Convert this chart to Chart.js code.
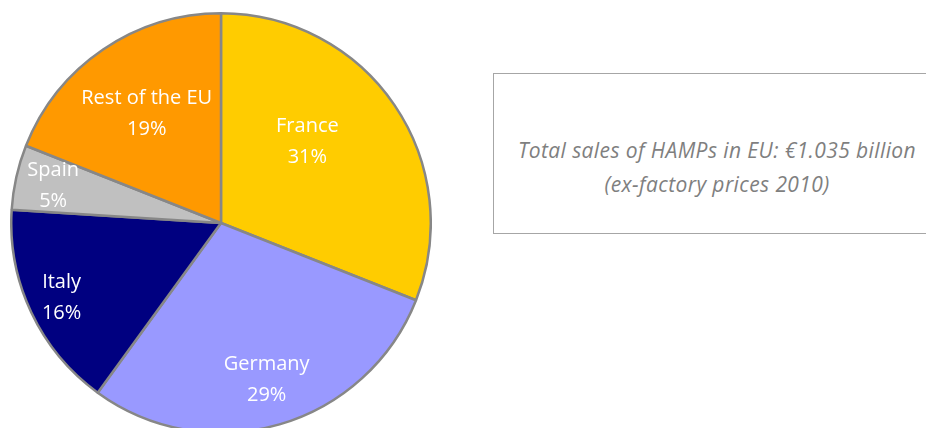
<!DOCTYPE html>
<html>
<head>
<meta charset="utf-8">
<script src="https://cdn.jsdelivr.net/npm/chart.js@4"></script>
<style>
    html, body { margin: 0; padding: 0; background: #fff; overflow: hidden; }
    body { width: 926px; height: 428px; position: relative; }
    #pieWrap { position: absolute; left: 10px; top: 12px; width: 422px; height: 422px; }
    #noteBox {
        position: absolute; left: 493px; top: 73px; width: 440px; height: 161px;
        border: 1px solid #a6a6a6; box-sizing: border-box;
        font-family: 'Open Sans', sans-serif; font-style: italic; font-size: 21px;
        letter-spacing: 0.4px; color: #7f7f7f; text-align: center;
    }
    #noteBox .line { position: absolute; left: 0; width: 446px; white-space: nowrap; line-height: 28px; }
</style>
</head>
<body>
<div id="pieWrap"><canvas id="salesPie"></canvas></div>
<div id="noteBox">
    <div class="line" style="top:62px;">Total sales of HAMPs in EU: €1.035 billion</div>
    <div class="line" style="top:96px;">(ex-factory prices 2010)</div>
</div>
<script>
// ── Data ──────────────────────────────────────────────────────────────
const countries = ['France', 'Germany', 'Italy', 'Spain', 'Rest of the EU'];
const shares = [31, 29, 16, 5, 19];
const sliceColors = ['#ffcc00', '#9999ff', '#000080', '#c0c0c0', '#ff9900'];

// label placement per slice: [radius fraction, angle nudge in degrees]
const labelPlace = [[0.565, -9], [0.78, 0], [0.84, 0], [0.82, 0], [0.63, 0]];

// Draws "Name\nNN%" inside each slice
const sliceLabels = {
    id: 'sliceLabels',
    afterDatasetsDraw(chart) {
        const { ctx } = chart;
        const arcs = chart.getDatasetMeta(0).data;
        ctx.save();
        ctx.fillStyle = '#ffffff';
        ctx.font = '20px "Open Sans", sans-serif';
        ctx.textAlign = 'center';
        ctx.textBaseline = 'middle';
        arcs.forEach((arc, i) => {
            const [frac, nudge] = labelPlace[i];
            const mid = (arc.startAngle + arc.endAngle) / 2 + nudge * Math.PI / 180;
            const r = arc.outerRadius * frac;
            const x = arc.x + Math.cos(mid) * r;
            const y = arc.y + Math.sin(mid) * r;
            ctx.fillText(countries[i], x, y - 15.5);
            ctx.fillText(shares[i] + '%', x, y + 15.5);
        });
        ctx.restore();
    },
};

new Chart(document.getElementById('salesPie'), {
    type: 'pie',
    data: {
        labels: countries,
        datasets: [{
            data: shares,
            backgroundColor: sliceColors,
            borderColor: '#878787',
            borderWidth: 2.5,
        }],
    },
    options: {
        responsive: true,
        maintainAspectRatio: false,
        animation: false,
        layout: { padding: 0 },
        plugins: {
            legend: { display: false },
            tooltip: { enabled: false },
        },
    },
    plugins: [sliceLabels],
});
</script>
</body>
</html>
